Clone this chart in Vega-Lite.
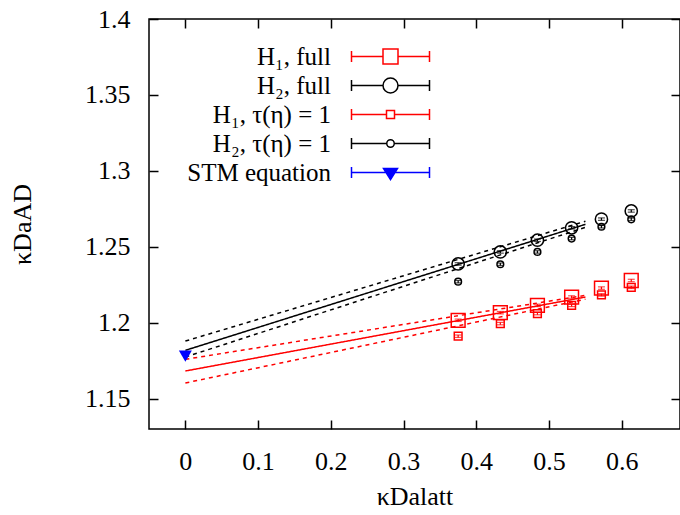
{
  "$schema": "https://vega.github.io/schema/vega-lite/v6.json",
  "width": 531,
  "height": 410,
  "autosize": "none",
  "padding": {"left": 149, "top": 19, "right": 0, "bottom": 86},
  "background": "white",
  "config": {
    "view": {"stroke": "black", "strokeWidth": 1.5},
    "font": "Liberation Serif",
    "axis": {
      "labelFont": "Liberation Serif", "labelColor": "black",
      "titleFont": "Liberation Serif", "titleFontSize": 26, "titleFontWeight": "normal", "titleColor": "black",
      "tickColor": "black", "tickWidth": 1.5, "domain": false, "grid": false
    },
    "legend": {
      "labelFont": "Liberation Serif", "labelFontSize": 25, "labelColor": "black",
      "labelAlign": "right", "labelOffset": -72, "labelLimit": 400,
      "rowPadding": 3, "padding": 0, "symbolSize": 100, "symbolStrokeWidth": 1.5, "symbolOpacity": 1
    }
  },
  "datasets": {
    "fits": [
      {"fit": "H1", "band": "c", "x": 0, "y": 1.1682}, {"fit": "H1", "band": "c", "x": 0.55, "y": 1.2169},
      {"fit": "H1", "band": "u", "x": 0, "y": 1.1759}, {"fit": "H1", "band": "u", "x": 0.55, "y": 1.2180},
      {"fit": "H1", "band": "l", "x": 0, "y": 1.1603}, {"fit": "H1", "band": "l", "x": 0.55, "y": 1.2155},
      {"fit": "H2", "band": "c", "x": 0, "y": 1.1818}, {"fit": "H2", "band": "c", "x": 0.55, "y": 1.2648},
      {"fit": "H2", "band": "u", "x": 0, "y": 1.1879}, {"fit": "H2", "band": "u", "x": 0.55, "y": 1.2668},
      {"fit": "H2", "band": "l", "x": 0, "y": 1.1774}, {"fit": "H2", "band": "l", "x": 0.55, "y": 1.2628}
    ],
    "pts": [
      {"series": "H₁, full", "grp": "H1", "x": 0.375, "y": 1.2016, "e": 0.0008},
      {"series": "H₁, full", "grp": "H1", "x": 0.433, "y": 1.2066, "e": 0.0008},
      {"series": "H₁, full", "grp": "H1", "x": 0.484, "y": 1.2114, "e": 0.0008},
      {"series": "H₁, full", "grp": "H1", "x": 0.531, "y": 1.2169, "e": 0.0008},
      {"series": "H₁, full", "grp": "H1", "x": 0.572, "y": 1.2228, "e": 0.0008},
      {"series": "H₁, full", "grp": "H1", "x": 0.613, "y": 1.2278, "e": 0.0008},
      {"series": "H₂, full", "grp": "H2", "x": 0.375, "y": 1.2387, "e": 0.0008},
      {"series": "H₂, full", "grp": "H2", "x": 0.433, "y": 1.2466, "e": 0.0008},
      {"series": "H₂, full", "grp": "H2", "x": 0.484, "y": 1.2543, "e": 0.0008},
      {"series": "H₂, full", "grp": "H2", "x": 0.531, "y": 1.2625, "e": 0.0008},
      {"series": "H₂, full", "grp": "H2", "x": 0.572, "y": 1.2682, "e": 0.0008},
      {"series": "H₂, full", "grp": "H2", "x": 0.613, "y": 1.2736, "e": 0.0008},
      {"series": "H₁, τ(η) = 1", "grp": "H1", "x": 0.375, "y": 1.1911, "e": 0.0008},
      {"series": "H₁, τ(η) = 1", "grp": "H1", "x": 0.433, "y": 1.1994, "e": 0.0008},
      {"series": "H₁, τ(η) = 1", "grp": "H1", "x": 0.484, "y": 1.2060, "e": 0.0008},
      {"series": "H₁, τ(η) = 1", "grp": "H1", "x": 0.531, "y": 1.2114, "e": 0.0008},
      {"series": "H₁, τ(η) = 1", "grp": "H1", "x": 0.572, "y": 1.2183, "e": 0.0008},
      {"series": "H₁, τ(η) = 1", "grp": "H1", "x": 0.613, "y": 1.2233, "e": 0.0008},
      {"series": "H₂, τ(η) = 1", "grp": "H2", "x": 0.375, "y": 1.2270, "e": 0.0008},
      {"series": "H₂, τ(η) = 1", "grp": "H2", "x": 0.433, "y": 1.2385, "e": 0.0008},
      {"series": "H₂, τ(η) = 1", "grp": "H2", "x": 0.484, "y": 1.2466, "e": 0.0008},
      {"series": "H₂, τ(η) = 1", "grp": "H2", "x": 0.531, "y": 1.2554, "e": 0.0008},
      {"series": "H₂, τ(η) = 1", "grp": "H2", "x": 0.572, "y": 1.2632, "e": 0.0008},
      {"series": "H₂, τ(η) = 1", "grp": "H2", "x": 0.613, "y": 1.2681, "e": 0.0008}
    ],
    "stm": [
      {"series": "STM equation", "x": 0, "y": 1.178}
    ]
  },
  "resolve": {"axis": {"x": "independent", "y": "independent"}},
  "encoding": {
    "x": {"field": "x", "type": "quantitative", "scale": {"domain": [-0.05, 0.68], "nice": false, "zero": false}, "axis": null},
    "y": {"field": "y", "type": "quantitative", "scale": {"domain": [1.13, 1.4], "nice": false, "zero": false}, "axis": null}
  },
  "layer": [
    {
      "data": {"name": "fits"},
      "mark": {"type": "line", "strokeWidth": 1.5},
      "encoding": {
        "x": {"field": "x", "type": "quantitative", "scale": {"domain": [-0.05, 0.68], "nice": false, "zero": false},
          "axis": {"orient": "bottom", "values": [0, 0.1, 0.2, 0.3, 0.4, 0.5, 0.6], "format": "~g", "tickSize": -9,
            "labelFont": "Liberation Serif", "labelFontSize": 26, "labelPadding": 28,
            "title": "κDalatt", "titleFont": "Liberation Serif", "titleFontSize": 26, "titlePadding": 9}},
        "y": {"field": "y", "type": "quantitative", "scale": {"domain": [1.13, 1.4], "nice": false, "zero": false},
          "axis": {"orient": "left", "values": [1.15, 1.2, 1.25, 1.3, 1.35, 1.4], "format": "~g", "tickSize": -9,
            "labelFont": "Liberation Serif", "labelFontSize": 26, "labelPadding": 28,
            "title": "κDaAD", "titleFont": "Liberation Serif", "titleFontSize": 26, "titlePadding": 49}},
        "color": {"field": "fit", "type": "nominal", "scale": {"domain": ["H1", "H2"], "range": ["#ff0000", "#000000"]}, "legend": null},
        "strokeDash": {"field": "band", "type": "nominal", "scale": {"domain": ["c", "u", "l"], "range": [[1, 0], [4, 4], [4, 4]]}, "legend": null}
      }
    },
    {
      "data": {"name": "pts"},
      "mark": {"type": "errorbar", "ticks": {"size": 7}, "thickness": 1.2},
      "encoding": {
        "yError": {"field": "e"},
        "color": {"field": "grp", "type": "nominal", "scale": {"domain": ["H1", "H2"], "range": ["#ff0000", "#000000"]}, "legend": null}
      }
    },
    {
      "data": {"name": "pts"},
      "transform": [{"filter": "datum.series === 'H₁, full'"}],
      "mark": {"type": "point", "shape": "square", "size": 190, "filled": false, "color": "#ff0000", "strokeWidth": 1.5, "opacity": 1}
    },
    {
      "data": {"name": "pts"},
      "transform": [{"filter": "datum.series === 'H₂, full'"}],
      "mark": {"type": "point", "shape": "circle", "size": 150, "filled": false, "color": "#000000", "strokeWidth": 1.5, "opacity": 1}
    },
    {
      "data": {"name": "pts"},
      "transform": [{"filter": "datum.series === 'H₁, τ(η) = 1'"}],
      "mark": {"type": "point", "shape": "square", "size": 60, "filled": false, "color": "#ff0000", "strokeWidth": 1.5, "opacity": 1}
    },
    {
      "data": {"name": "pts"},
      "transform": [{"filter": "datum.series === 'H₂, τ(η) = 1'"}],
      "mark": {"type": "point", "shape": "circle", "size": 45, "filled": false, "color": "#000000", "strokeWidth": 1.5, "opacity": 1}
    },
    {
      "data": {"name": "stm"},
      "mark": {"type": "point", "shape": "triangle-down", "size": 169, "filled": true, "color": "#0000ff", "opacity": 1},
      "encoding": {
        "x": {"field": "x", "type": "quantitative", "scale": {"domain": [-0.05, 0.68], "nice": false, "zero": false},
          "axis": {"orient": "top", "values": [0, 0.1, 0.2, 0.3, 0.4, 0.5, 0.6], "labels": false, "tickSize": -9, "title": null}},
        "y": {"field": "y", "type": "quantitative", "scale": {"domain": [1.13, 1.4], "nice": false, "zero": false},
          "axis": {"orient": "right", "values": [1.15, 1.2, 1.25, 1.3, 1.35, 1.4], "labels": false, "tickSize": -9, "title": null}}
      }
    },
    {
      "data": {"values": [
        {"series": "H₁, full", "x": 0, "y": 1.2},
        {"series": "H₂, full", "x": 0, "y": 1.2},
        {"series": "H₁, τ(η) = 1", "x": 0, "y": 1.2},
        {"series": "H₂, τ(η) = 1", "x": 0, "y": 1.2},
        {"series": "STM equation", "x": 0, "y": 1.2}
      ]},
      "mark": {"type": "point", "opacity": 0, "strokeWidth": 1.5},
      "encoding": {
        "shape": {"field": "series", "type": "nominal",
          "scale": {"domain": ["H₁, full", "H₂, full", "H₁, τ(η) = 1", "H₂, τ(η) = 1", "STM equation"],
            "range": [
              "M-7.8 -1.1V1.1M-7.8 0H-1.5M1.5 0H7.8M7.8 -1.1V1.1M-1.5 -1.5H1.5V1.5H-1.5Z",
              "M-7.8 -1.1V1.1M-7.8 0H-1.5M1.5 0H7.8M7.8 -1.1V1.1M-1.5 0A1.5 1.5 0 1 0 1.5 0A1.5 1.5 0 1 0 -1.5 0Z",
              "M-7.8 -1.1V1.1M-7.8 0H-0.8M0.8 0H7.8M7.8 -1.1V1.1M-0.8 -0.8H0.8V0.8H-0.8Z",
              "M-7.8 -1.1V1.1M-7.8 0H-0.75M0.75 0H7.8M7.8 -1.1V1.1M-0.75 0A0.75 0.75 0 1 0 0.75 0A0.75 0.75 0 1 0 -0.75 0Z",
              "M-7.8 -1.1V1.1M-7.8 0H7.8M7.8 -1.1V1.1M-1.4 -0.8H1.4L0 1.4Z"
            ]},
          "legend": {"orient": "none", "legendX": 229, "legendY": 25, "title": null,
            "labelFont": "Liberation Serif", "labelFontSize": 25,
            "encode": {"symbols": {"update": {"opacity": {"value": 1}}}}}},
        "stroke": {"field": "series", "type": "nominal",
          "scale": {"domain": ["H₁, full", "H₂, full", "H₁, τ(η) = 1", "H₂, τ(η) = 1", "STM equation"],
            "range": ["#ff0000", "#000000", "#ff0000", "#000000", "#0000ff"]},
          "legend": {"orient": "none", "legendX": 229, "legendY": 25, "title": null, "labelFont": "Liberation Serif", "labelFontSize": 25}},
        "fill": {"field": "series", "type": "nominal",
          "scale": {"domain": ["H₁, full", "H₂, full", "H₁, τ(η) = 1", "H₂, τ(η) = 1", "STM equation"],
            "range": ["transparent", "transparent", "transparent", "transparent", "#0000ff"]},
          "legend": {"orient": "none", "legendX": 229, "legendY": 25, "title": null, "labelFont": "Liberation Serif", "labelFontSize": 25}}
      }
    }
  ]
}
